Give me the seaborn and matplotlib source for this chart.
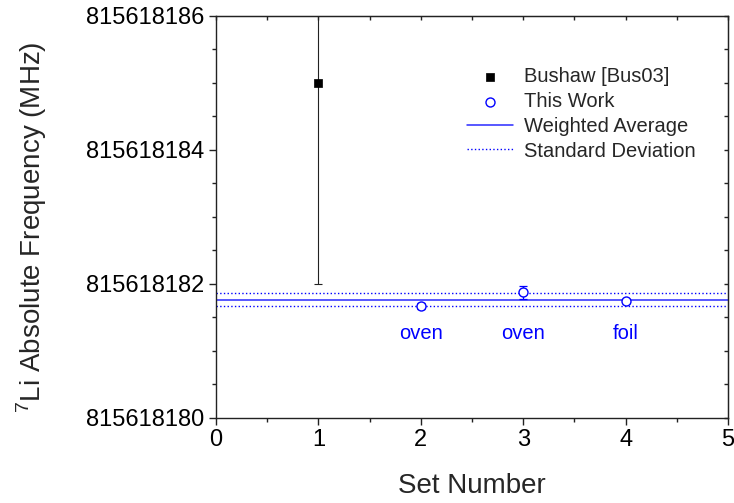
import numpy as np
import pandas as pd
import matplotlib
matplotlib.use("Agg")
import matplotlib.pyplot as plt
import seaborn as sns
from matplotlib.ticker import MultipleLocator, FormatStrFormatter

# values
bushaw_set = [1]
bushaw_freq = [815618185.0]
bushaw_err = [3.0]

work_set = [2, 3, 4]
work_freq = [815618181.675, 815618181.875, 815618181.74]
work_err = [0.045, 0.095, 0.03]
work_notes = ["oven", "oven", "foil"]

weighted_avg = 815618181.764
std_dev = 0.098

sns.set_style("ticks")
plt.rcParams['font.family'] = ['Liberation Sans', 'DejaVu Sans']
plt.rcParams['mathtext.fontset'] = 'custom'
plt.rcParams['mathtext.rm'] = 'Liberation Sans'

blue = '#0000ff'

fig = plt.figure(figsize=(7.34, 5.03), dpi=100)
ax = fig.add_axes([0.2943, 0.1696, 0.6975, 0.7986])

df_b = pd.DataFrame({'set': bushaw_set, 'freq': bushaw_freq})
df_w = pd.DataFrame({'set': work_set, 'freq': work_freq})

ax.errorbar(bushaw_set, bushaw_freq, yerr=bushaw_err, fmt='none',
            ecolor='#222222', elinewidth=0.8, capsize=2.6, capthick=0.8, zorder=2)
sns.scatterplot(x='set', y='freq', data=df_b, marker='s', s=40, color='black',
                edgecolor='black', label='Bushaw [Bus03]', ax=ax, zorder=3)

ax.errorbar(work_set, work_freq, yerr=work_err, fmt='none',
            ecolor=blue, elinewidth=0.9, capsize=2.6, capthick=0.9, zorder=2)
sns.scatterplot(x='set', y='freq', data=df_w, marker='o', s=42,
                facecolor='white', edgecolor=blue, linewidth=1.0,
                label='This Work', ax=ax, zorder=3)

ax.axhline(weighted_avg, color='#2a2aff', lw=1.1, label='Weighted Average', zorder=1)
ax.axhline(weighted_avg + std_dev, color=blue, lw=1.0, ls=':', label='Standard Deviation', zorder=1)
ax.axhline(weighted_avg - std_dev, color=blue, lw=1.0, ls=':', zorder=1)

for xs, note in zip(work_set, work_notes):
    ax.text(xs, 815618181.26, note, color=blue, fontsize=14.5, ha='center', va='center')

ax.set_xlim(0, 5)
ax.set_ylim(815618180, 815618186)
ax.xaxis.set_major_locator(MultipleLocator(1))
ax.xaxis.set_minor_locator(MultipleLocator(0.5))
ax.yaxis.set_major_locator(MultipleLocator(2))
ax.yaxis.set_minor_locator(MultipleLocator(0.5))
ax.yaxis.set_major_formatter(FormatStrFormatter('%d'))
ax.tick_params(which='major', direction='out', length=5, width=1, labelsize=17, colors='#222222')
ax.tick_params(which='minor', direction='out', length=3, width=1, colors='#222222')
ax.tick_params(axis='both', labelcolor='black')

for side in ['top', 'right', 'left', 'bottom']:
    ax.spines[side].set_visible(True)
    ax.spines[side].set_linewidth(1.0)
    ax.spines[side].set_color('#222222')

top = ax.secondary_xaxis('top')
top.xaxis.set_major_locator(MultipleLocator(1))
top.xaxis.set_minor_locator(MultipleLocator(0.5))
top.tick_params(which='both', direction='in', length=3, width=1, labeltop=False, colors='#222222')
right = ax.secondary_yaxis('right')
right.yaxis.set_major_locator(MultipleLocator(2))
right.yaxis.set_minor_locator(MultipleLocator(0.5))
right.tick_params(which='both', direction='in', length=3, width=1, labelright=False, colors='#222222')

ax.set_xlabel('Set Number', fontsize=20)
ax.set_ylabel('$^7$Li Absolute Frequency (MHz)', fontsize=20)
ax.xaxis.set_label_coords(0.5, -0.137)
ax.yaxis.set_label_coords(-0.326, 0.475)

leg = ax.legend(loc='upper left', bbox_to_anchor=(467 / 734, 1 - 67 / 503),
                bbox_transform=fig.transFigure, frameon=False, fontsize=14.5,
                handlelength=2.3, handletextpad=0.55, labelspacing=0.29,
                borderpad=0, borderaxespad=0)

fig.savefig('out.png', dpi=100)
